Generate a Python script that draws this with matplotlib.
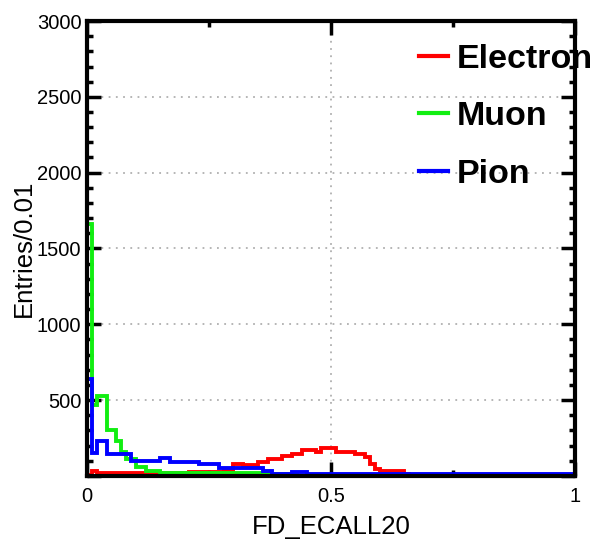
import numpy as np
import matplotlib
matplotlib.use("Agg")
import matplotlib.pyplot as plt
from matplotlib.lines import Line2D
from matplotlib.ticker import MultipleLocator, FixedLocator, FuncFormatter

# ---------------- data (entries per 0.01 bin, FD_ECALL20 from 0 to 1) ----------------
bin_edges = np.linspace(0.0, 1.0, 101)

electron = [
    5, 35, 18, 18, 18, 18, 18, 18, 18, 18,
    18, 18, 18, 18, 18, 18, 18, 18, 18, 18,
    18, 28, 28, 28, 28, 28, 28, 28, 40, 40,
    80, 80, 73, 73, 73, 93, 93, 113, 113, 113,
    133, 133, 146, 146, 172, 172, 172, 160, 186, 186,
    186, 160, 160, 160, 160, 146, 146, 126, 80, 47,
    33, 33, 33, 33, 33, 12, 0, 0, 0, 0,
    0, 0, 0, 0, 0, 0, 0, 0, 0, 0,
    0, 0, 0, 0, 0, 0, 0, 0, 0, 0,
    0, 0, 0, 0, 0, 0, 0, 0, 0, 0,
]

muon = [
    1660, 470, 530, 530, 300, 300, 232, 160, 110, 110,
    60, 60, 30, 30, 30, 20, 20, 20, 20, 20,
    20, 20, 20, 20, 20, 20, 20, 20, 20, 20,
    20, 20, 20, 20, 20, 20, 12, 12, 12, 12,
    12, 12, 12, 0, 0, 0, 0, 0, 0, 0,
    0, 0, 0, 0, 0, 0, 0, 0, 0, 0,
    0, 0, 0, 0, 0, 0, 0, 0, 0, 0,
    0, 0, 0, 0, 0, 0, 0, 0, 0, 0,
    0, 0, 0, 0, 0, 0, 0, 0, 0, 0,
    0, 0, 0, 0, 0, 0, 0, 0, 0, 0,
]

pion = [
    637, 150, 230, 230, 145, 145, 145, 145, 145, 100,
    100, 100, 100, 100, 100, 118, 118, 95, 95, 95,
    95, 95, 95, 78, 78, 78, 78, 52, 52, 52,
    52, 52, 52, 52, 52, 52, 30, 30, 16, 16,
    16, 16, 26, 26, 26, 14, 14, 14, 14, 14,
    14, 14, 14, 14, 14, 14, 14, 14, 14, 14,
    14, 14, 14, 14, 14, 14, 14, 14, 14, 14,
    14, 14, 14, 14, 14, 14, 14, 14, 14, 14,
    14, 14, 14, 14, 14, 14, 14, 14, 14, 14,
    14, 14, 14, 14, 14, 14, 14, 14, 14, 14,
]

series_labels = ["Electron", "Muon", "Pion"]
series_colors = ["#ff0000", "#11ee11", "#0000ff"]
x_tick_values = [0, 0.5, 1]
x_tick_labels = ["0", "0.5", "1"]

# ---------------- figure ----------------
plt.rcParams["font.family"] = ["Liberation Sans", "DejaVu Sans"]

fig = plt.figure(figsize=(5.98, 5.39), dpi=100)
ax = fig.add_axes([0.1455, 0.117, 0.816, 0.844])

for vals, col in zip([electron, muon, pion], series_colors):
    ax.stairs(vals, bin_edges, color=col, lw=2.8, baseline=0, zorder=3)

ax.set_xlim(0, 1)
ax.set_ylim(0, 3000)

ax.xaxis.set_major_locator(FixedLocator(x_tick_values))
ax.xaxis.set_minor_locator(FixedLocator([0.25, 0.75]))
ax.xaxis.set_major_formatter(FuncFormatter(
    lambda v, p: x_tick_labels[x_tick_values.index(v)] if v in x_tick_values else ""))
ax.yaxis.set_major_locator(MultipleLocator(500))
ax.yaxis.set_minor_locator(MultipleLocator(100))
ax.yaxis.set_major_formatter(FuncFormatter(lambda v, p: "" if v == 0 else f"{int(v)}"))

ax.tick_params(which="both", direction="in", top=True, right=True,
               width=2.5, labelsize=14.5, color="black")
ax.tick_params(which="major", length=10)
ax.tick_params(which="minor", length=4)
ax.tick_params(axis="x", pad=8)
ax.tick_params(axis="y", pad=4)

ax.grid(True, which="major", ls=(0, (1, 3)), color="#b0b0b0", lw=1.3, zorder=0)

for sp in ax.spines.values():
    sp.set_linewidth(3)
    sp.set_zorder(5)

ax.set_xlabel("FD_ECALL20", fontsize=18.5)
ax.set_ylabel("Entries/0.01", fontsize=18.5)
ax.xaxis.set_label_coords(0.5, -0.086)
ax.yaxis.set_label_coords(-0.105, 0.5)

handles = [Line2D([], [], color=c, lw=3) for c in series_colors]
leg = ax.legend(handles, series_labels, loc="upper left", bbox_to_anchor=(0.68, 0.95),
                frameon=False, borderpad=0, borderaxespad=0, handlelength=0.85,
                handletextpad=0.25, labelspacing=0.78,
                prop={"weight": "bold", "size": 24.5})

fig.savefig("out.png", dpi=100)
